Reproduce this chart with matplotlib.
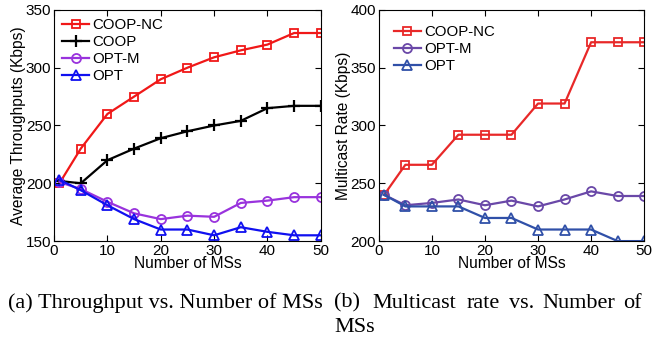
import matplotlib
matplotlib.use("Agg")
from matplotlib import pyplot as plt

plt.rcParams["font.family"] = ["Liberation Sans", "DejaVu Sans"]

###* DATA
ms = [1, 5, 10, 15, 20, 25, 30, 35, 40, 45, 50]
##* (a) throughput
thr_coop_nc = [200, 230, 260, 275, 290, 300, 309, 315, 320, 330, 330]
thr_coop = [202, 200, 220, 230, 239, 245, 250, 254, 265, 267, 267]
thr_opt_m = [201, 195, 184, 174, 169, 172, 171, 183, 185, 188, 188]
thr_opt = [203, 194, 181, 169, 160, 160, 155, 162, 158, 155, 155]
##* (b) multicast rate
rate_coop_nc = [240, 266, 266, 292, 292, 292, 319, 319, 372, 372, 372]
rate_opt_m = [240, 231, 233, 236, 231, 235, 230, 236, 243, 239, 239]
rate_opt = [240, 230, 230, 230, 220, 220, 210, 210, 210, 200, 200]

###* FIGURE
fig = plt.figure(figsize=(6.52, 3.41), dpi=100)
ax_a = fig.add_axes([0.083, 0.293, 0.409, 0.678])
ax_b = fig.add_axes([0.581, 0.293, 0.407, 0.678])

def style(ax, ylim, yticks):
    ax.set_xlim(0, 50)
    ax.set_ylim(*ylim)
    ax.set_xticks(range(0, 51, 10))
    ax.set_yticks(yticks)
    ax.tick_params(direction="in", top=True, right=True, labelsize=11, length=4, pad=2)
    ax.set_xlabel("Number of MSs", fontsize=11.2, labelpad=-1)
    for s in ax.spines.values():
        s.set_linewidth(0.8)

#* (a)
ax_a.plot(ms, thr_coop_nc, "-s", color="#f01818", lw=1.6, ms=6, mfc="none", mew=1.3, label="COOP-NC")
ax_a.plot(ms, thr_coop, "-+", color="black", lw=1.6, ms=8, mew=1.6, label="COOP")
ax_a.plot(ms, thr_opt_m, "-o", color="#9933dd", lw=1.6, ms=6.5, mfc="none", mew=1.3, label="OPT-M")
ax_a.plot(ms, thr_opt, "-^", color="#1010f0", lw=1.6, ms=7, mfc="none", mew=1.3, label="OPT")
style(ax_a, (150, 350), range(150, 351, 50))
ax_a.set_ylabel("Average Throughputs (Kbps)", fontsize=11.2, labelpad=0)
ax_a.legend(loc="upper left", frameon=False, fontsize=10.8, handlelength=1.8,
            handletextpad=0.2, labelspacing=0.2, borderaxespad=0.3, borderpad=0.25)

#* (b)
ax_b.plot(ms, rate_coop_nc, "-s", color="#e82828", lw=1.6, ms=6, mfc="none", mew=1.3, label="COOP-NC")
ax_b.plot(ms, rate_opt_m, "-o", color="#6a48a8", lw=1.6, ms=6.5, mfc="none", mew=1.3, label="OPT-M")
ax_b.plot(ms, rate_opt, "-^", color="#3050a8", lw=1.6, ms=7, mfc="none", mew=1.3, label="OPT")
style(ax_b, (200, 400), range(200, 401, 50))
ax_b.set_ylabel("Multicast Rate (Kbps)", fontsize=11.2, labelpad=0)
ax_b.legend(loc="upper left", frameon=False, fontsize=10.8, handlelength=1.8,
            handletextpad=0.2, labelspacing=0.2, borderaxespad=0.6, borderpad=0.4)

#* captions (second one is justified, so words are placed one by one)
cap = dict(family=["Liberation Serif", "DejaVu Serif"], fontsize=16, va="center")
y1, y2 = 1 - 303 / 341, 1 - 328 / 341
fig.text(8 / 652, y1, "(a) Throughput vs. Number of MSs", ha="left", **cap)
for word, x in [("(b)", 334), ("Multicast", 372), ("rate", 467), ("vs.", 509), ("Number", 542)]:
    fig.text(x / 652, y1, word, ha="left", **cap)
fig.text(642 / 652, y1, "of", ha="right", **cap)
fig.text(334 / 652, y2, "MSs", ha="left", **cap)

fig.savefig("out.png", dpi=100)
